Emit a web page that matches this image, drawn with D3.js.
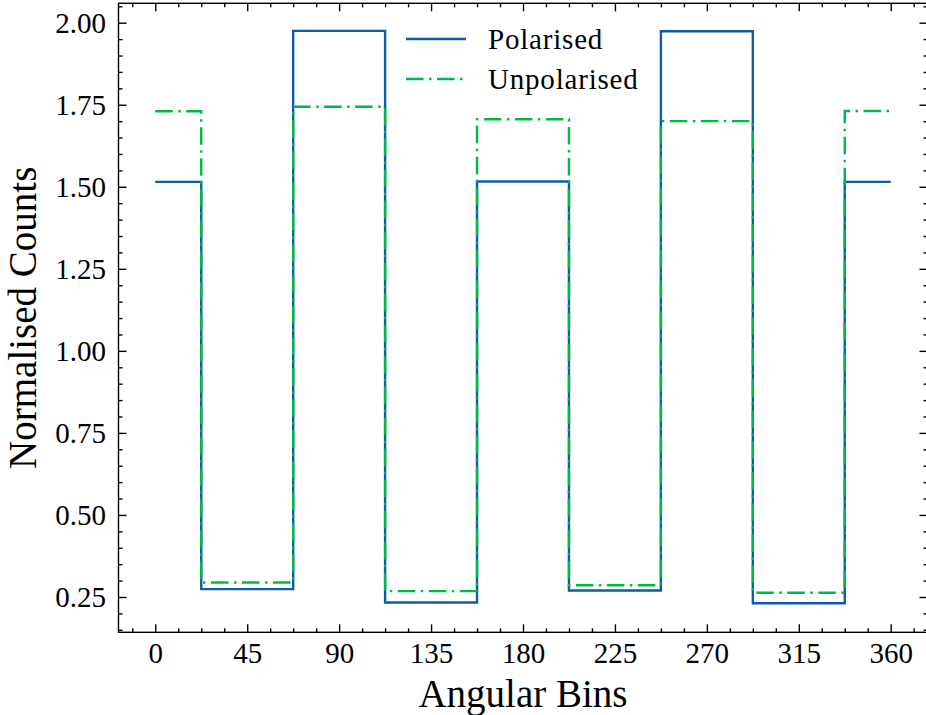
<!DOCTYPE html>
<html>
<head>
<meta charset="utf-8">
<script src="https://cdn.jsdelivr.net/npm/d3@7"></script>
<style>
  html, body { margin: 0; padding: 0; background: #fff; }
  svg { display: block; }
  text { font-family: "Liberation Serif", "Times New Roman", serif; fill: #000; }
</style>
</head>
<body>
<svg id="chart" width="926" height="715"></svg>
<script>
// Bin centres (degrees) and normalised counts per bin
const angles = [0, 45, 90, 135, 180, 225, 270, 315, 360];
const polarised   = [1.515, 0.274, 1.975, 0.233, 1.516, 0.270, 1.974, 0.231, 1.515];
const unpolarised = [1.730, 0.294, 1.744, 0.268, 1.706, 0.286, 1.700, 0.263, 1.731];
const seriesNames = ["Polarised", "Unpolarised"];
const xTicks = [0, 45, 90, 135, 180, 225, 270, 315, 360];
const yTicks = [0.25, 0.50, 0.75, 1.00, 1.25, 1.50, 1.75, 2.00];

(function () {
const svg = d3.select("#chart");
const box = { left: 118.5, right: 927.5, top: 3.3, bottom: 632.3 };
const dashDot = "17.5,5.5,2.5,5.5";
const lw = 2.4;

const x = d3.scaleLinear().domain([-18, 378]).range([box.left, box.right]);
const y = d3.scaleLinear().domain([0.1424, 2.0591]).range([box.bottom, box.top]);

const xMinor = d3.range(-11.25, 378, 11.25).filter(v => Math.abs(v % 45) > 1e-6);
const yMinor = d3.range(0.15, 2.06, 0.05).map(v => +v.toFixed(2))
  .filter(v => Math.abs(Math.round(v * 100) % 25) > 0);

// Clip lines to the axes box
svg.append("defs").append("clipPath").attr("id", "plotclip")
  .append("rect").attr("x", box.left).attr("y", box.top)
  .attr("width", box.right - box.left).attr("height", box.bottom - box.top);

// Step lines (bin edges at the midpoints between centres)
const line = d3.line().curve(d3.curveStep)
  .x(d => x(d[0])).y(d => y(d[1]));

const g = svg.append("g").attr("clip-path", "url(#plotclip)");
g.append("path")
  .datum(angles.map((a, i) => [a, polarised[i]]))
  .attr("d", line).attr("fill", "none")
  .attr("stroke", "#0C5DA5").attr("stroke-width", lw);
g.append("path")
  .datum(angles.map((a, i) => [a, unpolarised[i]]))
  .attr("d", line).attr("fill", "none")
  .attr("stroke", "#00B945").attr("stroke-width", lw)
  .attr("stroke-dasharray", dashDot);

// Axes with inward ticks on all four sides
const tickStyle = sel => {
  sel.select(".domain").remove();
  sel.selectAll("line").attr("stroke", "#000").attr("stroke-width", 1.4);
};

svg.append("g").attr("transform", `translate(0,${box.bottom})`)
  .call(d3.axisBottom(x).tickValues(xTicks).tickSizeInner(-8).tickSizeOuter(0)
    .tickPadding(10).tickFormat(d3.format("d")))
  .call(tickStyle)
  .call(s => s.selectAll("text").attr("font-size", 29)
    .attr("font-family", "Liberation Serif, serif"));
svg.append("g").attr("transform", `translate(0,${box.bottom})`)
  .call(d3.axisBottom(x).tickValues(xMinor).tickSize(-4).tickFormat(""))
  .call(tickStyle);
svg.append("g").attr("transform", `translate(0,${box.top})`)
  .call(d3.axisTop(x).tickValues(xTicks).tickSize(-8).tickFormat(""))
  .call(tickStyle);
svg.append("g").attr("transform", `translate(0,${box.top})`)
  .call(d3.axisTop(x).tickValues(xMinor).tickSize(-4).tickFormat(""))
  .call(tickStyle);

svg.append("g").attr("transform", `translate(${box.left},0)`)
  .call(d3.axisLeft(y).tickValues(yTicks).tickSizeInner(-8).tickSizeOuter(0)
    .tickPadding(12.5).tickFormat(d3.format(".2f")))
  .call(tickStyle)
  .call(s => s.selectAll("text").attr("font-size", 29)
    .attr("font-family", "Liberation Serif, serif").attr("dy", "0.34em"));
svg.append("g").attr("transform", `translate(${box.left},0)`)
  .call(d3.axisLeft(y).tickValues(yMinor).tickSize(-4).tickFormat(""))
  .call(tickStyle);
svg.append("g").attr("transform", `translate(${box.right},0)`)
  .call(d3.axisRight(y).tickValues(yTicks).tickSize(-8).tickFormat(""))
  .call(tickStyle);
svg.append("g").attr("transform", `translate(${box.right},0)`)
  .call(d3.axisRight(y).tickValues(yMinor).tickSize(-4).tickFormat(""))
  .call(tickStyle);

// Frame
svg.append("rect").attr("x", box.left).attr("y", box.top)
  .attr("width", box.right - box.left).attr("height", box.bottom - box.top)
  .attr("fill", "none").attr("stroke", "#000").attr("stroke-width", 1.4);

// Axis titles
svg.append("text").attr("x", 523).attr("y", 707)
  .attr("text-anchor", "middle").attr("font-size", 39).text("Angular Bins");
svg.append("text")
  .attr("transform", `translate(36,${(box.top + box.bottom) / 2}) rotate(-90)`)
  .attr("text-anchor", "middle").attr("font-size", 39).text("Normalised Counts");

// Legend
const legend = svg.append("g");
const legendRows = [
  { name: seriesNames[0], color: "#0C5DA5", dashed: false, yPos: 39 },
  { name: seriesNames[1], color: "#00B945", dashed: true, yPos: 79 }
];
legendRows.forEach(r => {
  legend.append("line").attr("x1", 406).attr("x2", 466)
    .attr("y1", r.yPos).attr("y2", r.yPos)
    .attr("stroke", r.color).attr("stroke-width", lw)
    .attr("stroke-dasharray", r.dashed ? dashDot : null);
  legend.append("text").attr("x", 488).attr("y", r.yPos + 10)
    .attr("font-size", 29).attr("letter-spacing", 0.8).text(r.name);
});
})();
</script>
</body>
</html>
